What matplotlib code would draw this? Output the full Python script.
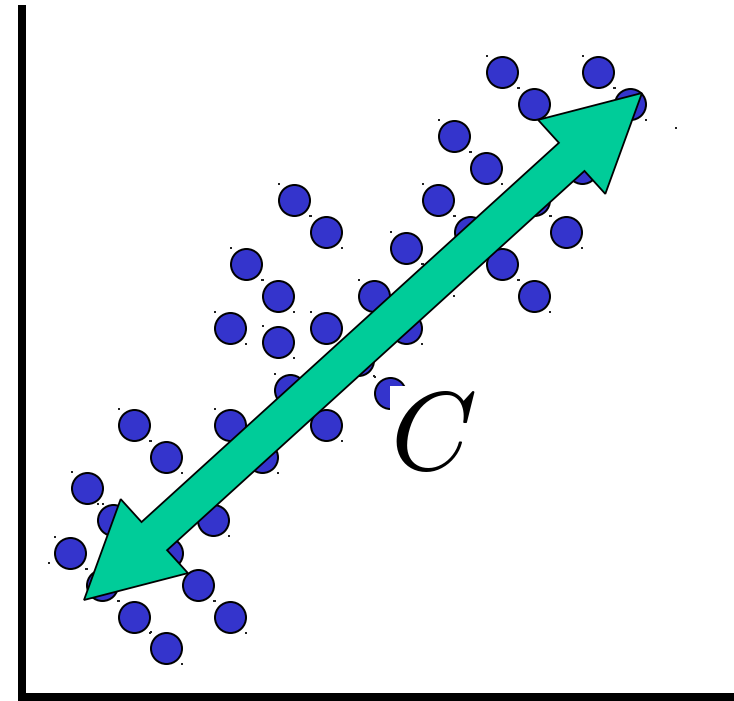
import numpy as np
import matplotlib
matplotlib.use("Agg")
import matplotlib.pyplot as plt
from matplotlib.patches import Polygon

plt.rcParams['mathtext.fontset'] = 'cm'

# circle centres (pixel-like coordinates, y downward)
circle_x = [502, 534, 598, 630, 454, 486, 582,
            294, 326, 438, 470, 534, 566,
            246, 278, 406, 438, 502, 534, 374, 406,
            230, 278, 326, 358, 290, 326, 390,
            134, 166, 230, 262, 87, 113, 213,
            70, 102, 167, 198, 134, 166, 230]
circle_y = [72, 104, 72, 104, 136, 168, 168,
            200, 232, 200, 232, 200, 232,
            264, 296, 248, 280, 264, 296, 296, 328,
            328, 342, 328, 360, 390, 425, 393,
            425, 457, 425, 457, 488, 520, 520,
            553, 585, 553, 585, 617, 648, 617]
extra_dot_x = [676, 49]
extra_dot_y = [128, 563]

arrow_tail = (84, 600)
arrow_head = (642, 93)
label_text = r'$C$'

W, H = 734, 701
fig = plt.figure(figsize=(W / 100, H / 100), dpi=100)
ax = fig.add_axes([0, 0, 1, 1])
ax.set_xlim(0, W)
ax.set_ylim(H, 0)
ax.axis('off')

px = 0.72  # points per pixel

# axis lines
ax.plot([22, 22], [5, 701], color='black', lw=8 * px, solid_capstyle='butt', zorder=1)
ax.plot([18, 734], [697, 697], color='black', lw=8 * px, solid_capstyle='butt', zorder=1)

cx = np.array(circle_x, float)
cy = np.array(circle_y, float)
# selection dots
dx = np.concatenate([cx - 15, cx + 16, extra_dot_x])
dy = np.concatenate([cy - 16, cy + 16, extra_dot_y])
ax.scatter(dx, dy, marker='s', s=(2.8 * px) ** 2, color='#222222', linewidths=0, zorder=2)

ax.scatter(cx, cy, s=(31 * px) ** 2, facecolor='#3434CC', edgecolor='black',
           linewidths=2.0 * px, zorder=3)

# double-headed arrow
t = np.array(arrow_tail, float)
h = np.array(arrow_head, float)
u = (h - t) / np.linalg.norm(h - t)
n = np.array([-u[1], u[0]])
hl, hw, sw = 95, 50, 19
pts = [
    h,
    h - hl * u + hw * n,
    h - hl * u + sw * n,
    t + hl * u + sw * n,
    t + hl * u + hw * n,
    t,
    t + hl * u - hw * n,
    t + hl * u - sw * n,
    h - hl * u - sw * n,
    h - hl * u - hw * n,
]
ax.add_patch(Polygon(pts, closed=True, facecolor='#00CC99', edgecolor='black',
                     lw=1.8 * px, joinstyle='miter', zorder=5))

ax.text(390, 386, label_text, fontsize=79, ha='left', va='top', color='black',
        bbox=dict(facecolor='white', edgecolor='none', pad=0), zorder=4)

fig.savefig('out.png', dpi=100)
